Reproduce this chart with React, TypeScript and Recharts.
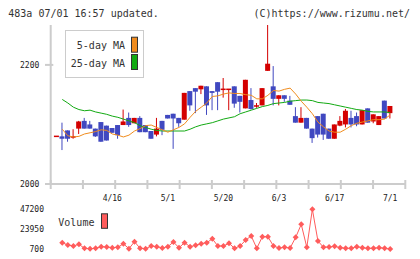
import { ComposedChart, LineChart, Bar, Line, XAxis, YAxis, Legend } from "recharts";

// daily candles, oldest first
const opens = [2080, 2080, 2090, 2079, 2093, 2106, 2100, 2093, 2104, 2098, 2094, 2099, 2099, 2111, 2102, 2111, 2099, 2089, 2083, 2106, 2116, 2118, 2111, 2108, 2156, 2161, 2159, 2164, 2156, 2171, 2159, 2157, 2164, 2148, 2127, 2141, 2131, 2132, 2190, 2164, 2143, 2149, 2140, 2114, 2103, 2111, 2093, 2114, 2118, 2093, 2076, 2098, 2100, 2111, 2114, 2100, 2127, 2105, 2099, 2140, 2119];
const closes = [2080, 2076, 2076, 2079, 2105, 2093, 2093, 2080, 2071, 2073, 2086, 2082, 2105, 2099, 2111, 2087, 2087, 2076, 2093, 2091, 2110, 2110, 2102, 2153, 2132, 2155, 2165, 2132, 2153, 2155, 2159, 2159, 2135, 2138, 2175, 2126, 2131, 2161, 2202, 2143, 2149, 2143, 2133, 2103, 2111, 2093, 2077, 2083, 2083, 2076, 2100, 2106, 2123, 2100, 2100, 2124, 2103, 2117, 2114, 2110, 2131];
const highs = [2080, 2103, 2090, 2092, 2106, 2111, 2106, 2093, 2104, 2098, 2094, 2099, 2125, 2120, 2111, 2114, 2099, 2089, 2111, 2106, 2116, 2118, 2111, 2153, 2156, 2161, 2165, 2164, 2156, 2171, 2178, 2159, 2164, 2148, 2175, 2161, 2136, 2161, 2267, 2198, 2149, 2149, 2148, 2129, 2129, 2111, 2093, 2114, 2118, 2093, 2100, 2114, 2126, 2123, 2120, 2124, 2127, 2117, 2114, 2140, 2131];
const lows = [2080, 2057, 2071, 2076, 2084, 2093, 2093, 2079, 2071, 2073, 2086, 2076, 2099, 2096, 2102, 2087, 2087, 2076, 2080, 2082, 2110, 2059, 2096, 2108, 2123, 2119, 2151, 2116, 2124, 2124, 2145, 2124, 2128, 2120, 2127, 2125, 2128, 2132, 2190, 2132, 2132, 2138, 2133, 2103, 2103, 2093, 2069, 2078, 2074, 2076, 2076, 2097, 2095, 2095, 2097, 2100, 2103, 2102, 2099, 2110, 2110];

const ma5 = [null, 2092, 2081, 2079, 2080, 2084, 2086, 2088, 2091, 2090, 2084, 2082, 2079, 2082, 2089, 2093, 2098, 2099, 2095, 2091, 2087, 2091, 2095, 2101, 2112, 2122, 2129, 2136, 2147, 2148, 2151, 2153, 2152, 2152, 2150, 2149, 2143, 2143, 2149, 2157, 2156, 2159, 2161, 2151, 2139, 2129, 2118, 2104, 2096, 2089, 2087, 2087, 2092, 2098, 2102, 2104, 2106, 2108, 2108, 2109, 2116];
const ma25 = [null, 2142, 2136, 2129, 2125, 2123, 2124, 2121, 2119, 2117, 2114, 2112, 2109, 2106, 2103, 2098, 2095, 2092, 2090, 2089, 2089, 2089, 2089, 2089, 2092, 2096, 2099, 2101, 2103, 2106, 2109, 2111, 2113, 2118, 2121, 2124, 2127, 2130, 2132, 2135, 2136, 2137, 2139, 2140, 2141, 2141, 2140, 2137, 2136, 2135, 2133, 2131, 2129, 2127, 2125, 2124, 2122, 2121, 2121, 2121, 2120];
const volume = [null, 8100, 5400, 4200, 6200, 1500, 1050, 1500, 3400, 3000, 2200, 2700, 6800, 1100, 9250, 1500, 900, 4200, 3400, 1900, 3400, 8900, 2200, 8100, 3400, 5000, 6900, 8100, 12600, 4200, 4200, 7400, 1500, 4200, 11200, 15900, 1500, 15100, 15100, 4200, 1900, 2700, 1900, 14400, 29600, 2700, 47200, 10100, 2700, 3000, 3900, 2200, 1500, 1500, 3400, 2200, 1500, 1500, 2200, 1500, 700];

const dateLabels = ["4/16", "5/1", "5/20", "6/3", "6/17", "7/1"];
const dateLabelIdx = [10, 20, 30, 40, 50, 60];
const priceTicks = [2000, 2200];
const volumeTicks = [700, 23950, 47200];

const RED = "#d40000";
const BLUE = "#4048c0";
const ORANGE = "#f08c1e";
const GREEN = "#12aa12";
const VOL = "#ff5c5c";
const AXIS = "#cccccc";
const MONO = "'DejaVu Sans Mono', monospace";

const X_DOMAIN: [number, number] = [-1.08, 62.72];
const gridTicks = Array.from({ length: 12 }, (_, k) => X_DOMAIN[0] + k * 5.8);

const rows = opens.map((open, i) => ({
  idx: i,
  open,
  close: closes[i],
  high: highs[i],
  low: lows[i],
  range: [lows[i], highs[i]],
  ma5: ma5[i],
  ma25: ma25[i],
  volume: volume[i],
}));

function Candle(props: any) {
  const { x, y, width, height, payload } = props;
  if (x == null || y == null) return null;
  const cx = x + width / 2;
  const top = Math.min(y, y + height);
  const h = Math.abs(height);
  const { open, close, high, low } = payload;
  const color = close >= open ? RED : BLUE;
  const span = high - low;
  const toY = (v: number) => (span > 0 ? top + ((high - v) / span) * h : top);
  const y1 = Math.min(toY(open), toY(close));
  const y2 = Math.max(toY(open), toY(close));
  return (
    <g>
      {h > 0 && <line x1={cx} x2={cx} y1={top} y2={top + h} stroke={color} strokeWidth={1} />}
      {y2 - y1 < 1.5 ? (
        <rect x={cx - 2.5} y={y1 - 0.75} width={5} height={1.5} fill={color} />
      ) : (
        <rect x={cx - 2.5} y={y1} width={5} height={y2 - y1} fill={color} />
      )}
    </g>
  );
}

function DateTick(props: any) {
  const { x, y, payload } = props;
  const k = dateLabelIdx.indexOf(payload.value);
  if (k >= 0) {
    return (
      <text x={x} y={y + 16.7} textAnchor="middle" fontSize={8} fontFamily={MONO} fill="#222">
        {dateLabels[k]}
      </text>
    );
  }
  return <line x1={x} x2={x} y1={y - 4} y2={y + 5} stroke={AXIS} strokeWidth={2} />;
}

function PriceTick(props: any) {
  const { x, y, payload } = props;
  return (
    <g>
      <line x1={x - 5.7} x2={x + 2.6} y1={y} y2={y} stroke={AXIS} strokeWidth={2} />
      <text x={x - 11.4} y={y + 2.8} textAnchor="end" fontSize={8} fontFamily={MONO} fill="#222">
        {payload.value}
      </text>
    </g>
  );
}

function VolumeTick(props: any) {
  const { x, y, payload } = props;
  return (
    <text x={x} y={y + 2.8} textAnchor="end" fontSize={8} fontFamily={MONO} fill="#222">
      {payload.value}
    </text>
  );
}

function Diamond(props: any) {
  const { cx, cy } = props;
  if (cx == null || cy == null) return null;
  return <polygon points={`${cx},${cy - 3} ${cx + 3},${cy} ${cx},${cy + 3} ${cx - 3},${cy}`} fill={VOL} />;
}

function MaLegend() {
  return (
    <svg width={79} height={48} style={{ display: "block" }}>
      <rect x={0.5} y={0.5} width={78} height={47} fill="#fff" stroke={AXIS} />
      <text x={60} y={19.3} textAnchor="end" fontSize={10} fontFamily={MONO} fill="#333">5-day MA</text>
      <rect x={66.5} y={7.2} width={6} height={15} fill={ORANGE} stroke="#333" />
      <text x={60} y={36.7} textAnchor="end" fontSize={10} fontFamily={MONO} fill="#333">25-day MA</text>
      <rect x={66.5} y={24.5} width={6} height={15} fill={GREEN} stroke="#333" />
    </svg>
  );
}

function VolumeLegend() {
  return (
    <svg width={52} height={18} style={{ display: "block" }}>
      <text x={0.3} y={12.7} fontSize={10} fontFamily={MONO} fill="#333">Volume</text>
      <rect x={43.5} y={0.8} width={6} height={14.5} fill={VOL} stroke="#333" />
    </svg>
  );
}

export default function App() {
  return (
    <div style={{ position: "absolute", left: 0, top: 0, width: 420, height: 259, background: "#fff" }}>
      <svg width={420} height={259} style={{ position: "absolute", left: 0, top: 0 }}>
        <text x={8.3} y={16.7} fontSize={10} fontFamily={MONO} fill="#333">483a 07/01 16:57 updated.</text>
        <text x={410} y={16.7} textAnchor="end" fontSize={10} fontFamily={MONO} fill="#333">(C)https://www.rizumu.net/</text>
      </svg>

      <div style={{ position: "absolute", left: 0, top: 0 }}>
        <ComposedChart width={420} height={205} data={rows} margin={{ top: 25, right: 14.7, bottom: 0, left: 0 }}>
          <XAxis
            dataKey="idx"
            type="number"
            domain={X_DOMAIN}
            allowDataOverflow
            ticks={[...gridTicks, ...dateLabelIdx]}
            interval={0}
            height={21}
            tickLine={false}
            tickSize={0}
            tickMargin={0}
            axisLine={{ stroke: AXIS, strokeWidth: 2 }}
            tick={<DateTick />}
          />
          <YAxis
            type="number"
            domain={[2000, 2267]}
            allowDataOverflow
            ticks={priceTicks}
            interval={0}
            width={50.7}
            tickLine={false}
            tickSize={0}
            tickMargin={0}
            axisLine={{ stroke: AXIS, strokeWidth: 2 }}
            tick={<PriceTick />}
          />
          <Line dataKey="ma25" stroke={GREEN} strokeWidth={1} dot={false} isAnimationActive={false} />
          <Line dataKey="ma5" stroke={ORANGE} strokeWidth={1} dot={false} isAnimationActive={false} />
          <Bar dataKey="range" barSize={5} shape={<Candle />} isAnimationActive={false} />
          <Legend
            layout="horizontal"
            verticalAlign="middle"
            align="center"
            content={<MaLegend />}
            wrapperStyle={{ left: 65, top: 30, width: 79, height: 48 }}
          />
        </ComposedChart>
      </div>

      <div style={{ position: "absolute", left: 0, top: 0 }}>
        <LineChart width={420} height={259} data={rows} margin={{ top: 209.3, right: 14.7, bottom: 10, left: 0 }}>
          <XAxis dataKey="idx" type="number" domain={X_DOMAIN} allowDataOverflow hide />
          <YAxis
            type="number"
            domain={[700, 47200]}
            ticks={volumeTicks}
            interval={0}
            width={50.7}
            axisLine={false}
            tickLine={false}
            tickSize={0}
            tickMargin={6.7}
            tick={<VolumeTick />}
          />
          <Line dataKey="volume" stroke={VOL} strokeWidth={1} dot={<Diamond />} isAnimationActive={false} />
          <Legend
            layout="horizontal"
            verticalAlign="middle"
            align="center"
            content={<VolumeLegend />}
            wrapperStyle={{ left: 58, top: 213, width: 52, height: 18 }}
          />
        </LineChart>
      </div>
    </div>
  );
}
